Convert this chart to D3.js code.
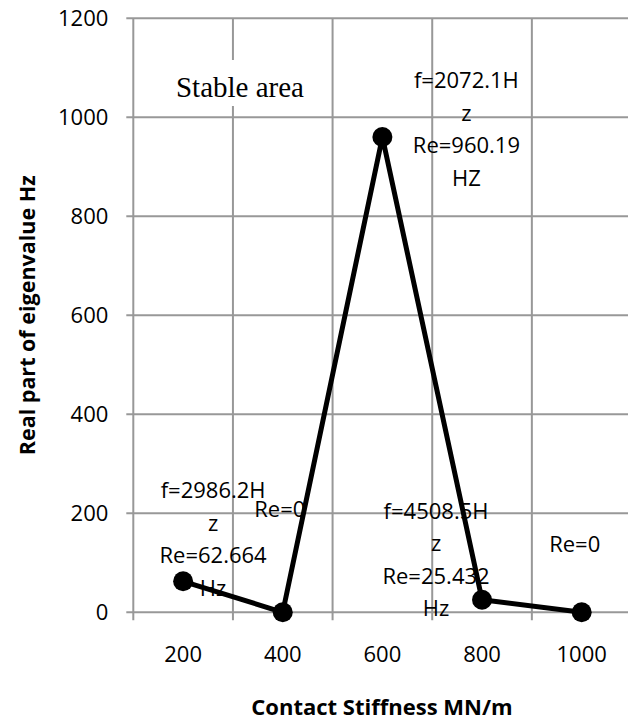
<!DOCTYPE html>
<html>
<head>
<meta charset="utf-8">
<script src="https://cdn.jsdelivr.net/npm/d3@7"></script>
<style>
  body { margin: 0; background: #fff; }
  svg { display: block; }
</style>
</head>
<body>
<svg id="chart" width="628" height="721"></svg>
<script>
// dane wykresu
const kategorie = ["200", "400", "600", "800", "1000"];
const wartosci = [62.664, 0, 960.19, 25.432, 0];
const etykiety = [
  ["f=2986.2H", "z", "Re=62.664", "Hz"],
  ["Re=0"],
  ["f=2072.1H", "z", "Re=960.19", "HZ"],
  ["f=4508.5H", "z", "Re=25.432", "Hz"],
  ["Re=0"]
];
const yTicks = [0, 200, 400, 600, 800, 1000, 1200];

// przesunięcia etykiet względem punktów (px)
const przesuniecia = [[30, -83], [-3, -95], [84, -49], [-46, -81], [-7, -60]];

const svg = d3.select("#chart");
const LEWO = 133.3, PRAWO = 631.5, GORA = 18.3, DOL = 612.3;
const FONT = "'Open Sans', sans-serif";
const SZARY = "#989898";

const x = d3.scaleBand().domain(kategorie).range([LEWO, PRAWO]).padding(0);
const y = d3.scaleLinear().domain([0, 1200]).range([DOL, GORA]);

// siatka pozioma + znaczniki osi Y
svg.append("g").selectAll("line").data(yTicks).join("line")
  .attr("x1", LEWO - 7).attr("x2", PRAWO)
  .attr("y1", d => y(d)).attr("y2", d => y(d))
  .attr("stroke", SZARY).attr("stroke-width", 2);

// siatka pionowa (granice kategorii)
const granice = kategorie.map(k => x(k)).concat([x.range()[1]]);
svg.append("g").selectAll("line").data(granice).join("line")
  .attr("x1", d => d).attr("x2", d => d)
  .attr("y1", GORA).attr("y2", DOL + 8)
  .attr("stroke", SZARY).attr("stroke-width", 2);

// etykiety osi Y
svg.append("g").selectAll("text").data(yTicks).join("text")
  .attr("x", LEWO - 25).attr("y", d => y(d)).attr("dy", "0.36em")
  .attr("text-anchor", "end")
  .style("font-family", FONT).style("font-size", "22px").attr("fill", "#000")
  .text(d => d);

// etykiety osi X
svg.append("g").selectAll("text").data(kategorie).join("text")
  .attr("x", d => x(d) + x.bandwidth() / 2).attr("y", 662)
  .attr("text-anchor", "middle")
  .style("font-family", FONT).style("font-size", "22px").attr("fill", "#000")
  .text(d => d);

// pole "Stable area"
svg.append("rect").attr("x", 168).attr("y", 60).attr("width", 150).attr("height", 46).attr("fill", "#fff");
svg.append("text").attr("x", 240).attr("y", 97).attr("text-anchor", "middle")
  .style("font-family", "'Liberation Serif', 'Times New Roman', serif").style("font-size", "29px")
  .text("Stable area");

// etykiety danych
const gEtykiety = svg.append("g");
etykiety.forEach((linie, i) => {
  const px = x(kategorie[i]) + x.bandwidth() / 2 + przesuniecia[i][0];
  const py = y(wartosci[i]) + przesuniecia[i][1];
  linie.forEach((t, j) => {
    gEtykiety.append("text")
      .attr("x", px).attr("y", py + j * 32.5)
      .attr("text-anchor", "middle")
      .style("font-family", FONT).style("font-size", "22px")
      .text(t);
  });
});

// linia serii
const linia = d3.line()
  .x((d, i) => x(kategorie[i]) + x.bandwidth() / 2)
  .y(d => y(d));
svg.append("path").datum(wartosci)
  .attr("d", linia).attr("fill", "none")
  .attr("stroke", "#000").attr("stroke-width", 5).attr("stroke-linejoin", "round");

svg.append("g").selectAll("circle").data(wartosci).join("circle")
  .attr("cx", (d, i) => x(kategorie[i]) + x.bandwidth() / 2)
  .attr("cy", d => y(d)).attr("r", 10).attr("fill", "#000");

// tytuły osi
svg.append("text")
  .attr("transform", `translate(35, ${(GORA + DOL) / 2}) rotate(-90)`)
  .attr("text-anchor", "middle")
  .style("font-family", FONT).style("font-size", "21.5px").style("font-weight", "bold")
  .text("Real part of eigenvalue Hz");

svg.append("text")
  .attr("x", 382).attr("y", 715).attr("text-anchor", "middle")
  .style("font-family", FONT).style("font-size", "22px").style("font-weight", "bold")
  .text("Contact Stiffness MN/m");
</script>
</body>
</html>
